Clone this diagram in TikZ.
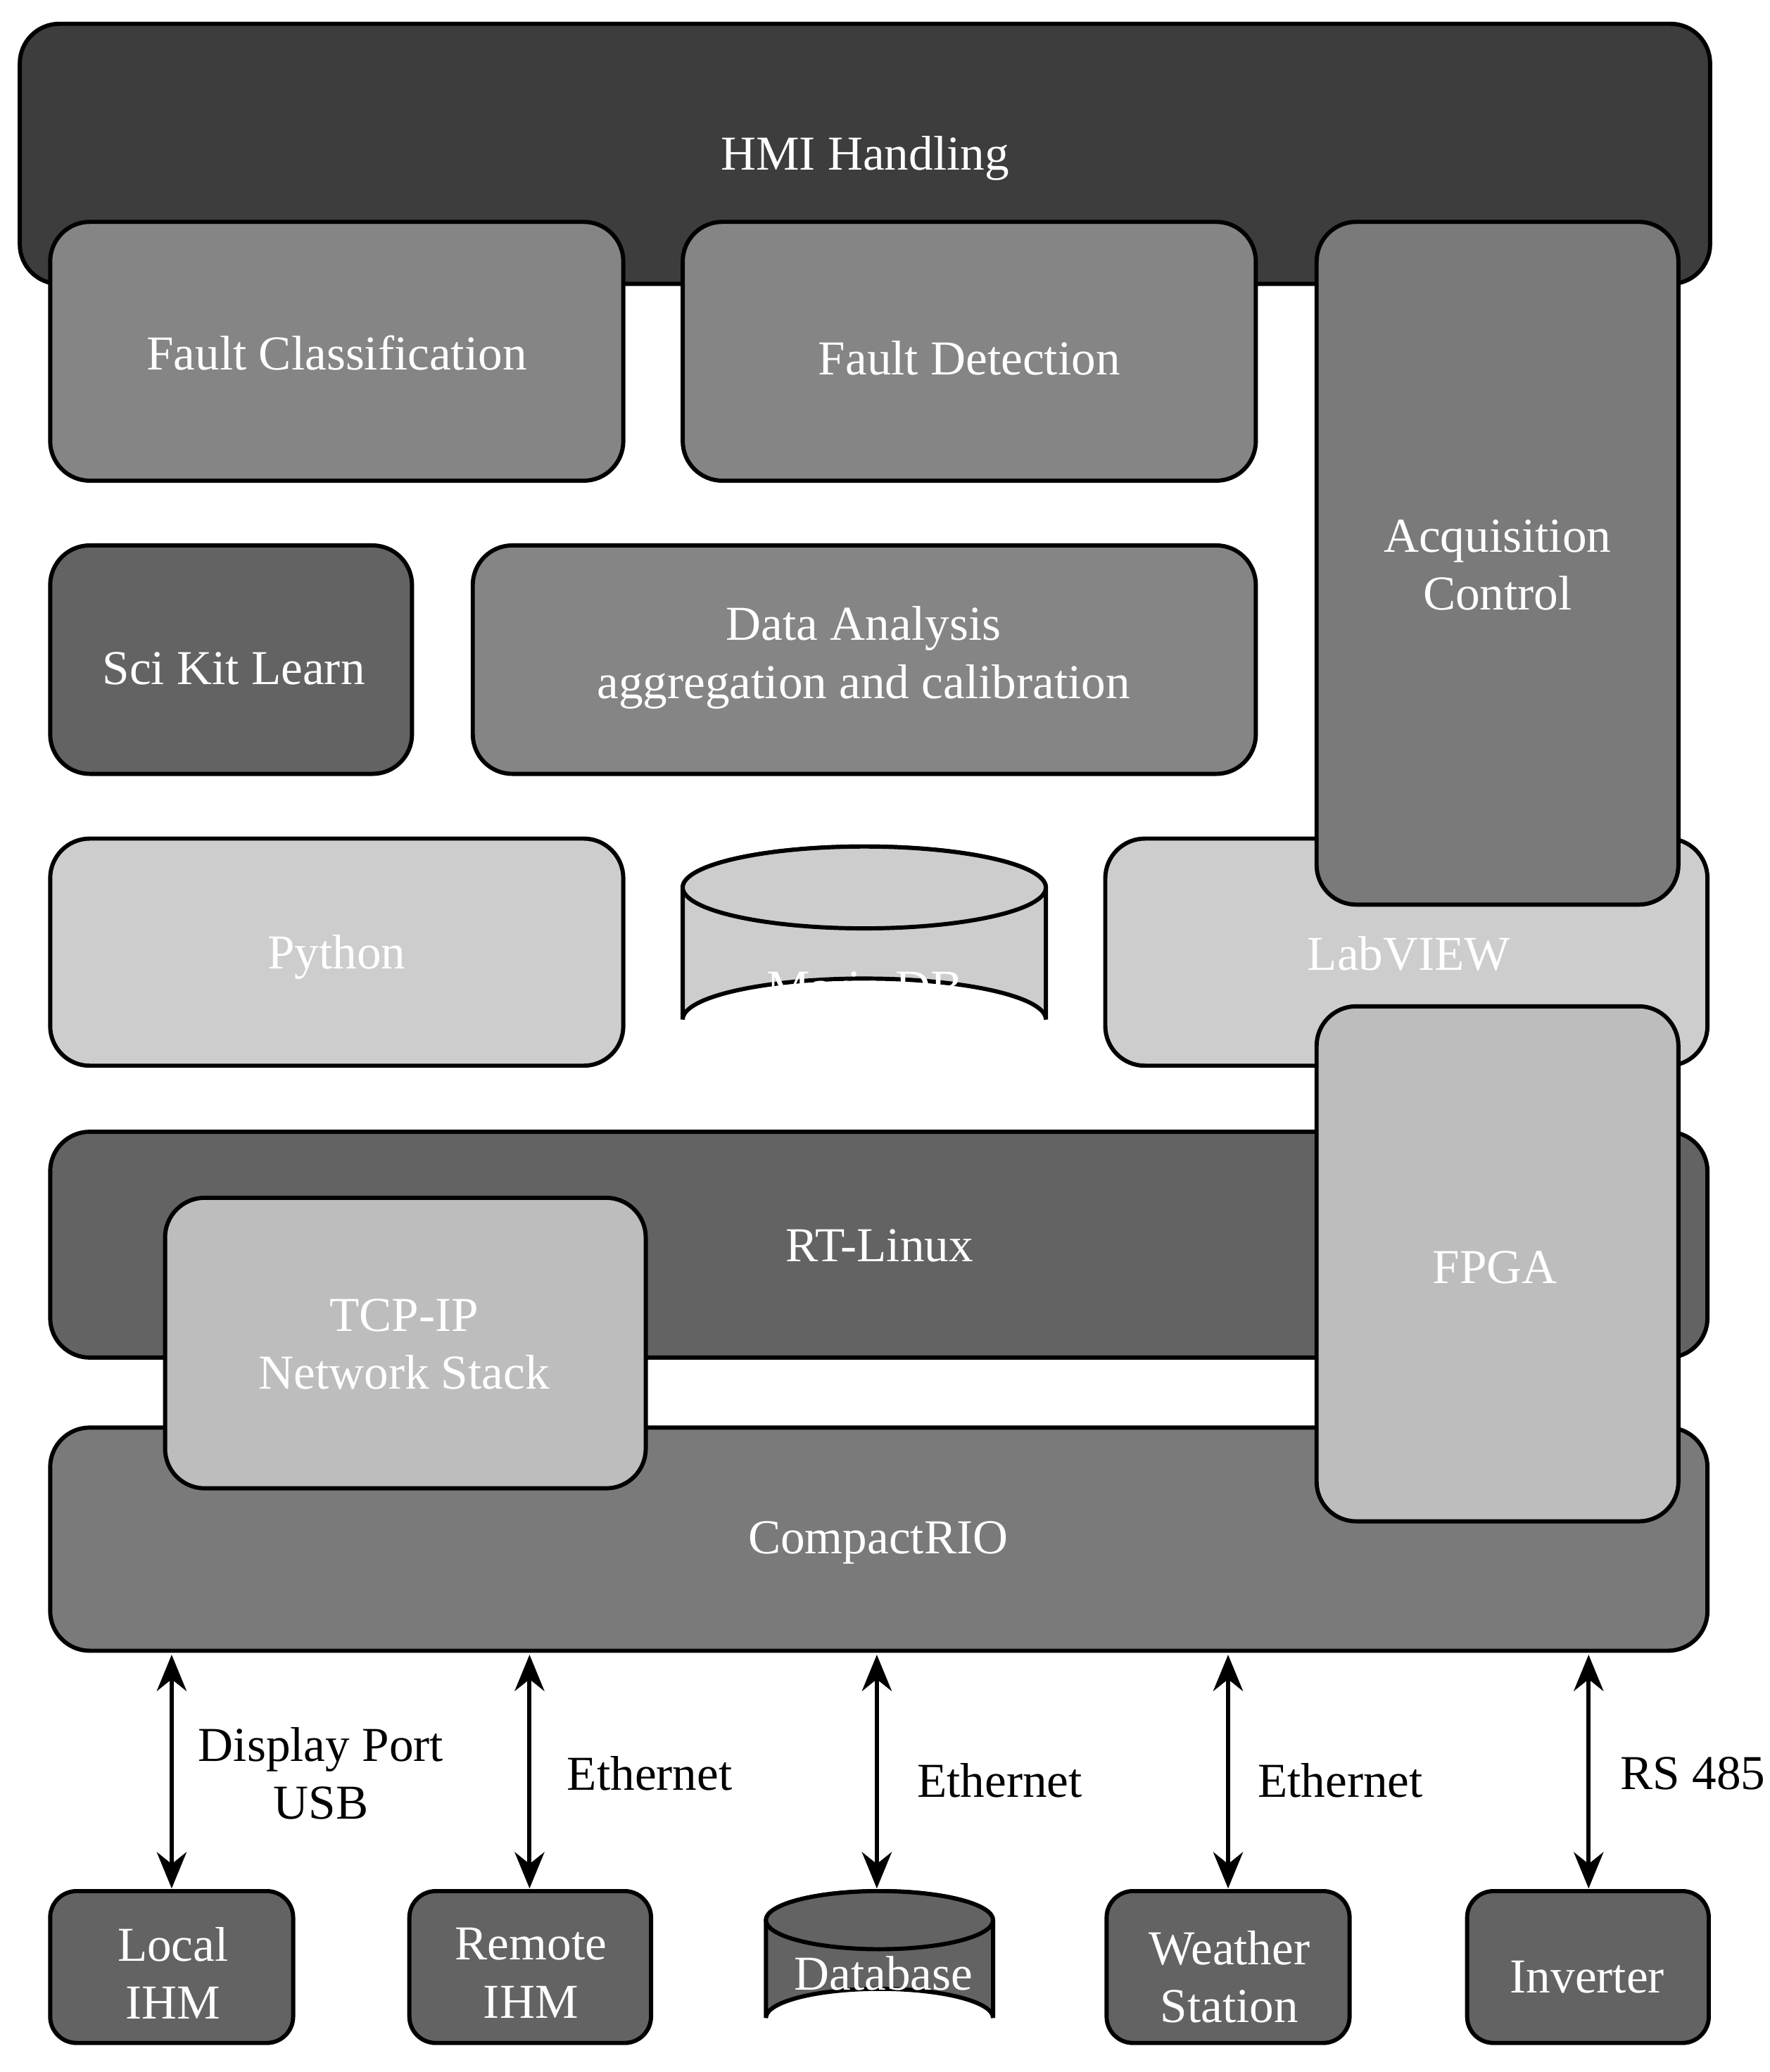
\documentclass[tikz,border=0pt]{standalone}
\usepackage{fontspec}
\setmainfont{Liberation Serif}
\usetikzlibrary{arrows.meta}
\definecolor{cdark}{HTML}{3D3D3D}
\definecolor{cmid}{HTML}{858585}
\definecolor{cdk}{HTML}{636363}
\definecolor{clight}{HTML}{CDCDCD}
\definecolor{cpale}{HTML}{BDBDBD}
\definecolor{ccrio}{HTML}{7A7A7A}
\tikzset{
 box/.style={draw=black,line width=1.8pt,rounded corners=0.6cm},
 lbl/.style={text=white,font=\fontsize{21}{25}\selectfont,align=center},
 blbl/.style={text=black,font=\fontsize{21}{25}\selectfont,align=center},
 link/.style={line width=1.8pt,{Stealth[length=0.55cm,width=0.45cm]}-{Stealth[length=0.55cm,width=0.45cm]}}
}
\begin{document}
\begin{tikzpicture}[x=0.02cm,y=-0.02cm]
\useasboundingbox (0,0) rectangle (1340,1569);
\path[box,fill=cdark] (15,18) rectangle (1295,215);
\node[lbl] (hmi) at (655,120) {HMI Handling};
\path[box,fill=cmid] (38,168) rectangle (472,364);
\node[lbl] (fc) at (255,267) {Fault Classification};
\path[box,fill=cmid] (517,168) rectangle (951,364);
\node[lbl] (fd) at (734,271) {Fault Detection};
\path[box,fill=cdk] (38,413) rectangle (312,586);
\node[lbl] (skl) at (177,506) {Sci Kit Learn};
\path[box,fill=cmid] (358,413) rectangle (951,586);
\node[lbl] (da) at (654,498) {Data Analysis\\aggregation and calibration};
\path[box,fill=clight] (38,635) rectangle (472,807);
\node[lbl] (py) at (255,725) {Python};
% Maria DB cylinder
\path[draw=black,line width=1.8pt,fill=clight] (517,672) -- (517,772) arc[start angle=180,end angle=360,x radius=137.5,y radius=31] -- (792,672) arc[start angle=0,end angle=-180,x radius=137.5,y radius=31] -- cycle;
\path[draw=black,line width=1.8pt,fill=clight] (654.5,672) ellipse[x radius=137.5,y radius=31];
\node[lbl] (mdb) at (655,748) {Maria DB};
\path[box,fill=clight] (837,635) rectangle (1293,807);
\node[lbl] (lv) at (1067,722) {LabVIEW};
\path[box,fill=ccrio] (997,168) rectangle (1271,685);
\node[lbl] (acq) at (1134,428) {Acquisition\\Control};
\path[box,fill=cdk] (38,857) rectangle (1293,1028);
\node[lbl] (rt) at (666,943) {RT-Linux};
\path[box,fill=ccrio] (38,1081) rectangle (1293,1250);
\node[lbl] (crio) at (665,1168) {CompactRIO};
\path[box,fill=cpale] (125,907) rectangle (489,1127);
\node[lbl] (tcp) at (306,1018) {TCP-IP\\Network Stack};
\path[box,fill=cpale] (997,762) rectangle (1271,1152);
\node[lbl] (fpga) at (1132,960) {FPGA};
% bottom devices
\path[box,rounded corners=0.4cm,fill=cdk] (38,1432) rectangle (222,1547);
\node[lbl] (loc) at (131,1494) {Local\\IHM};
\path[box,rounded corners=0.4cm,fill=cdk] (310,1432) rectangle (493,1547);
\node[lbl] (rem) at (402,1494) {Remote\\IHM};
\path[draw=black,line width=1.8pt,fill=cdk] (580,1454) -- (580,1528) arc[start angle=180,end angle=360,x radius=86,y radius=22] -- (752,1454) arc[start angle=0,end angle=-180,x radius=86,y radius=22] -- cycle;
\path[draw=black,line width=1.8pt,fill=cdk] (666,1454) ellipse[x radius=86,y radius=22];
\node[lbl] (dbs) at (669,1516) {Database\\Server};
\path[box,rounded corners=0.4cm,fill=cdk] (838,1432) rectangle (1022,1547);
\node[lbl] (ws) at (931,1497) {Weather\\Station};
\path[box,rounded corners=0.4cm,fill=cdk] (1111,1432) rectangle (1294,1547);
\node[lbl] (inv) at (1202,1497) {Inverter};
% connectors
\coordinate (t1) at (130,1253); \coordinate (b1) at (130,1430);
\coordinate (t2) at (401,1253); \coordinate (b2) at (401,1430);
\coordinate (t3) at (664,1253); \coordinate (b3) at (664,1430);
\coordinate (t4) at (930,1253); \coordinate (b4) at (930,1430);
\coordinate (t5) at (1203,1253); \coordinate (b5) at (1203,1430);
\draw[link] (t1) -- (b1);
\draw[link] (t2) -- (b2);
\draw[link] (t3) -- (b3);
\draw[link] (t4) -- (b4);
\draw[link] (t5) -- (b5);
\node[blbl] (l1) at (243,1343) {Display Port\\USB};
\node[blbl] (l2) at (492,1343) {Ethernet};
\node[blbl] (l3) at (757,1348) {Ethernet};
\node[blbl] (l4) at (1015,1348) {Ethernet};
\node[blbl] (l5) at (1282,1343) {RS 485};
\end{tikzpicture}
\end{document}
